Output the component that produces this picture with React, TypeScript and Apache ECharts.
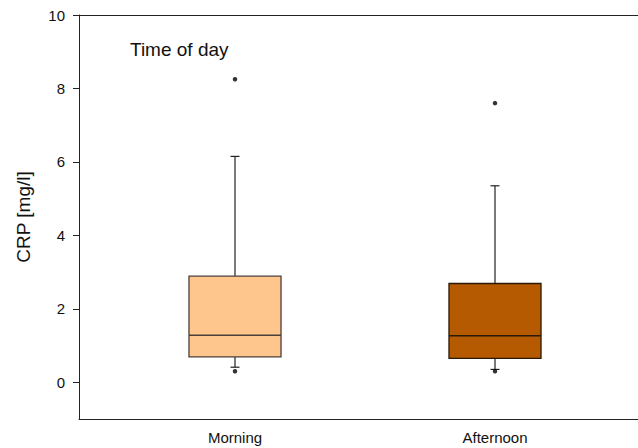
import React, { useEffect, useRef } from "react";
import * as echarts from "echarts";

const categories = ["Morning", "Afternoon"];
const lowerWhisker = [0.41, 0.35];
const q1 = [0.69, 0.65];
const median = [1.28, 1.27];
const q3 = [2.89, 2.69];
const upperWhisker = [6.15, 5.35];
const outliers: [number, number][] = [
  [0, 8.25],
  [0, 0.3],
  [1, 7.6],
  [1, 0.3],
];
const yTicks = [0, 2, 4, 6, 8, 10];
const boxColors = ["#fec68c", "#b55a00"];
const boxBorders = ["#4a4038", "#2a1a0a"];

export default function App() {
  const ref = useRef<HTMLDivElement>(null);
  useEffect(() => {
    if (!ref.current) return;
    const chart = echarts.init(ref.current, null, { renderer: "svg" });
    const font = "'Liberation Sans', Arial, sans-serif";
    const boxData = categories.map((_, i) => [
      i,
      lowerWhisker[i],
      q1[i],
      median[i],
      q3[i],
      upperWhisker[i],
    ]);
    chart.setOption({
      animation: false,
      backgroundColor: "#ffffff",
      title: {
        text: "Time of day",
        left: 130,
        top: 40,
        padding: 0,
        textStyle: { fontFamily: font, fontSize: 19, fontWeight: "normal", color: "#111" },
      },
      grid: [
        { left: 79, right: -2, top: 15, bottom: 29 },
        { left: 105, right: 13, top: 15, bottom: 29 },
      ],
      xAxis: [
        {
          type: "value",
          gridIndex: 0,
          min: 0,
          max: 1,
          position: "bottom",
          axisLine: { show: true, onZero: false, lineStyle: { color: "#222", width: 1 } },
          axisTick: { show: false },
          axisLabel: { show: false },
          splitLine: { show: false },
        },
        {
          type: "value",
          gridIndex: 0,
          min: 0,
          max: 1,
          position: "top",
          axisLine: { show: true, onZero: false, lineStyle: { color: "#222", width: 1 } },
          axisTick: { show: false },
          axisLabel: { show: false },
          splitLine: { show: false },
        },
        {
          type: "category",
          gridIndex: 1,
          data: categories,
          boundaryGap: true,
          axisLine: { show: false, onZero: false },
          axisTick: { show: false },
          splitLine: { show: false },
          axisLabel: {
            margin: 11,
            fontFamily: font,
            fontSize: 15,
            color: "#111",
          },
        },
      ],
      yAxis: [
        {
          type: "value",
          gridIndex: 0,
          min: -1,
          max: 10,
          name: "CRP [mg/l]",
          nameLocation: "middle",
          nameGap: 46,
          nameTextStyle: { fontFamily: font, fontSize: 19, color: "#111" },
          axisLine: { show: true, lineStyle: { color: "#222", width: 1 } },
          axisTick: { show: true, length: 6, lineStyle: { color: "#222" }, customValues: yTicks },
          axisLabel: {
            margin: 14,
            fontFamily: font,
            fontSize: 15,
            color: "#111",
            customValues: yTicks,
          },
          splitLine: { show: false },
        },
        {
          type: "value",
          gridIndex: 1,
          min: -1,
          max: 10,
          show: false,
          splitLine: { show: false },
        },
      ],
      series: [
        {
          type: "custom",
          xAxisIndex: 2,
          yAxisIndex: 1,
          data: boxData,
          encode: { x: 0, y: [1, 2, 3, 4, 5] },
          renderItem: (params: any, api: any) => {
            const idx = api.value(0);
            const lw = api.coord([idx, api.value(1)]);
            const b1 = api.coord([idx, api.value(2)]);
            const md = api.coord([idx, api.value(3)]);
            const b3 = api.coord([idx, api.value(4)]);
            const uw = api.coord([idx, api.value(5)]);
            const bandW = api.size([1, 0])[0];
            const halfW = (bandW * 0.354) / 2;
            const capHalf = 4.5;
            const cx = lw[0];
            const lineStyle = { stroke: "#222", lineWidth: 1.2 };
            return {
              type: "group",
              children: [
                { type: "line", shape: { x1: cx, y1: b3[1], x2: cx, y2: uw[1] }, style: lineStyle },
                { type: "line", shape: { x1: cx - capHalf, y1: uw[1], x2: cx + capHalf, y2: uw[1] }, style: lineStyle },
                { type: "line", shape: { x1: cx, y1: b1[1], x2: cx, y2: lw[1] }, style: lineStyle },
                { type: "line", shape: { x1: cx - capHalf, y1: lw[1], x2: cx + capHalf, y2: lw[1] }, style: lineStyle },
                {
                  type: "rect",
                  shape: { x: cx - halfW, y: b3[1], width: halfW * 2, height: b1[1] - b3[1] },
                  style: { fill: boxColors[idx], stroke: boxBorders[idx], lineWidth: 1.3 },
                },
                {
                  type: "line",
                  shape: { x1: cx - halfW, y1: md[1], x2: cx + halfW, y2: md[1] },
                  style: { stroke: boxBorders[idx], lineWidth: 1.5 },
                },
              ],
            };
          },
        },
        {
          type: "scatter",
          xAxisIndex: 2,
          yAxisIndex: 1,
          data: outliers,
          symbol: "circle",
          symbolSize: 4.5,
          itemStyle: { color: "#000" },
          z: 5,
        },
      ],
    });
    return () => chart.dispose();
  }, []);
  return (
    <div
      ref={ref}
      style={{ position: "fixed", left: 0, top: 0, width: 638, height: 448 }}
    />
  );
}
